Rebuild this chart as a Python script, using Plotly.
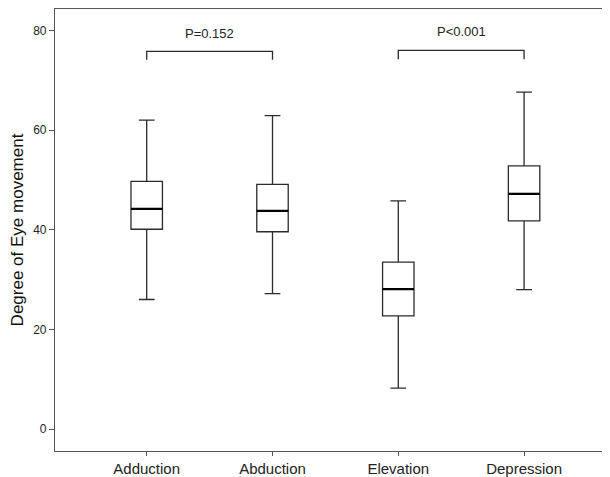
import plotly.graph_objects as go

categories = ["Adduction", "Abduction", "Elevation", "Depression"]
lower_whisker = [26.0, 27.2, 8.2, 28.0]
q1 = [40.1, 39.6, 22.7, 41.8]
median = [44.2, 43.8, 28.1, 47.2]
q3 = [49.7, 49.1, 33.5, 52.8]
upper_whisker = [62.0, 62.9, 45.8, 67.6]

comparisons = [(0, 1, "P=0.152"), (2, 3, "P<0.001")]
bracket_top = [75.8, 76.0]
bracket_bottom = [74.1, 74.2]
label_y = [78.2, 78.6]

y_ticks = [0, 20, 40, 60, 80]

positions = list(range(len(categories)))
box_w = 0.25
line_col = "#2b2b2b"
font_family = "Liberation Sans, Arial, sans-serif"

fig = go.Figure()
fig.add_trace(go.Box(
    x=positions, q1=q1, median=median, q3=q3,
    lowerfence=lower_whisker, upperfence=upper_whisker,
    width=box_w, whiskerwidth=0.5,
    fillcolor="white", line=dict(color=line_col, width=1.3),
    boxpoints=False, showlegend=False, hoverinfo="skip",
))
# thicker median lines
for p, m in zip(positions, median):
    fig.add_trace(go.Scatter(
        x=[p - box_w / 2, p + box_w / 2], y=[m, m], mode="lines",
        line=dict(color="black", width=2.3), showlegend=False, hoverinfo="skip",
    ))
# significance brackets
for (a, b, txt), top, bot, ly in zip(comparisons, bracket_top, bracket_bottom, label_y):
    fig.add_trace(go.Scatter(
        x=[a, a, b, b], y=[bot, top, top, bot], mode="lines",
        line=dict(color=line_col, width=1.3), showlegend=False, hoverinfo="skip",
    ))
    fig.add_annotation(x=(a + b) / 2, y=ly, text=txt, showarrow=False,
                       font=dict(size=13, color="#222", family=font_family),
                       yanchor="bottom", yshift=-4)

fig.update_layout(
    width=602, height=469,
    margin=dict(l=47, r=0, t=1, b=26),
    paper_bgcolor="white", plot_bgcolor="white",
    font=dict(family=font_family, color="#222"),
    xaxis=dict(
        range=[-0.729, 3.683], tickmode="array", tickvals=positions, ticktext=categories,
        showgrid=False, zeroline=False, showline=True, mirror=True,
        linecolor="#555", linewidth=1.2, ticks="outside", ticklen=4,
        tickcolor="#555", tickfont=dict(size=15, color="#222"), automargin=False,
    ),
    yaxis=dict(
        range=[-4.4, 84.3], tickvals=y_ticks, showgrid=False, zeroline=False,
        showline=True, linecolor="#555", linewidth=1.2, ticks="outside", ticklen=5,
        tickcolor="#555", tickfont=dict(size=12, color="#222"), automargin=False,
        title=dict(text="Degree of Eye movement", font=dict(size=17, color="#111"), standoff=7),
    ),
)

fig.write_html("out.html")
